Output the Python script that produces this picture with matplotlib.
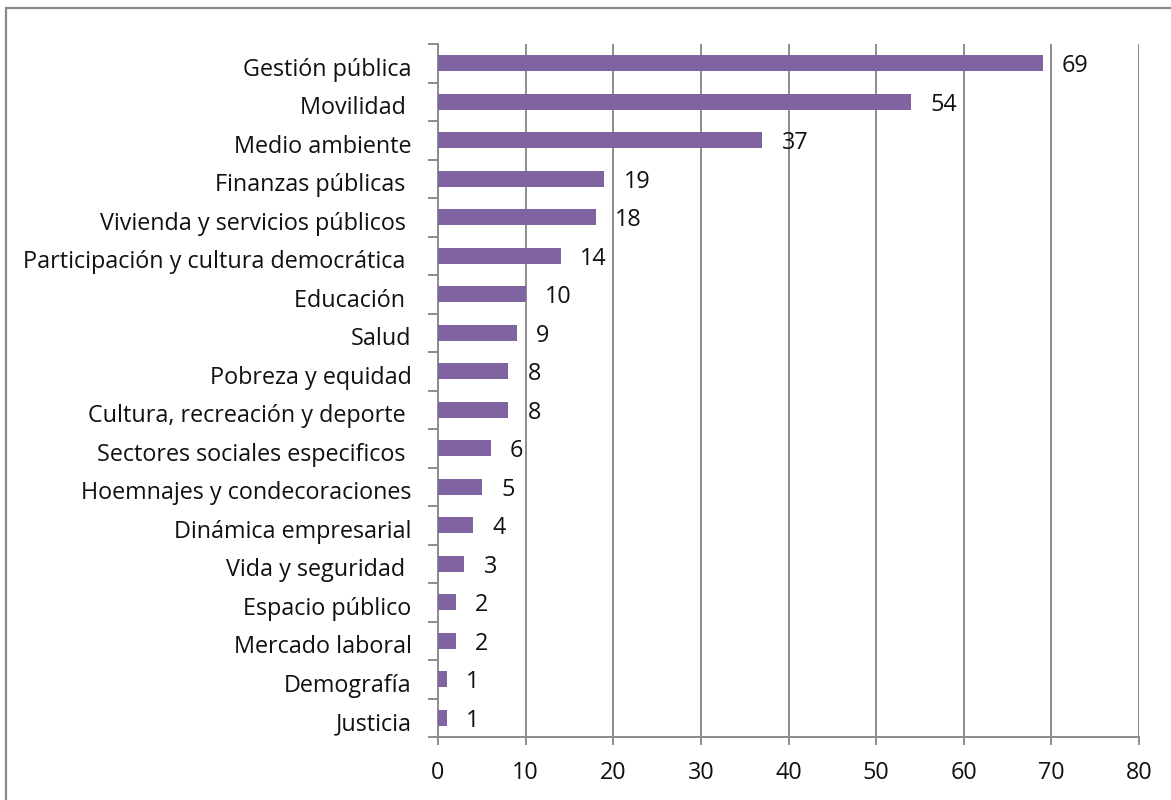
import matplotlib
matplotlib.use("Agg")
import matplotlib.pyplot as plt
import matplotlib.transforms as mtransforms
import numpy as np
from matplotlib.patches import Rectangle

categories = ["Gestión pública", "Movilidad ", "Medio ambiente", "Finanzas públicas ",
              "Vivienda y servicios públicos ", "Participación y cultura democrática ",
              "Educación ", "Salud", "Pobreza y equidad", "Cultura, recreación y deporte ",
              "Sectores sociales especificos ", "Hoemnajes y condecoraciones",
              "Dinámica empresarial", "Vida y seguridad ", "Espacio público",
              "Mercado laboral", "Demografía", "Justicia"]
values = [69, 54, 37, 19, 18, 14, 10, 9, 8, 8, 6, 5, 4, 3, 2, 2, 1, 1]
xticks = [0, 10, 20, 30, 40, 50, 60, 70, 80]

PURPLE = "#8064a2"
AXIS = "#8c8c8c"
INK = "#111111"
FS = 16.8

plt.rcParams.update({
    "font.family": ["Open Sans", "DejaVu Sans"],
    "font.size": FS,
    "text.color": INK,
})

fig = plt.figure(figsize=(11.71, 8.0), dpi=100)
ax = fig.add_axes([438 / 1171, 1 - 737 / 800, (1139 - 438) / 1171, (737 - 44) / 800])

n = len(categories)
y = np.arange(n)[::-1]
ax.barh(y, values, height=0.41, color=PURPLE, zorder=3)
for yi, v in zip(y, values):
    ax.annotate(f"{v}", (v, yi), xytext=(14, -2), textcoords="offset points",
                ha="left", va="center", fontsize=FS, color=INK, zorder=4)

ax.set_xlim(0, 80)
ax.set_ylim(-0.5, n - 0.5)
ax.set_xticks(xticks, [str(t) for t in xticks])
ax.set_yticks(y, categories)
ax.set_yticks(np.arange(-0.5, n), minor=True)
ax.tick_params(axis="y", which="major", length=0, pad=19, labelcolor=INK)
ax.tick_params(axis="y", which="minor", length=7, width=1.4, color=AXIS, direction="out")
ax.tick_params(axis="x", length=6, width=1.4, color=AXIS, pad=11, labelcolor=INK)
ax.xaxis.grid(True, color=AXIS, lw=1.4, zorder=0)
for s in ("top", "right"):
    ax.spines[s].set_visible(False)
for s in ("left", "bottom"):
    ax.spines[s].set_color(AXIS)
    ax.spines[s].set_linewidth(1.4)

# category labels sit a touch below the bar centre in the original
shift = mtransforms.ScaledTranslation(0, -2.5 / 72, fig.dpi_scale_trans)
for lab in ax.get_yticklabels():
    lab.set_transform(lab.get_transform() + shift)

# outer frame (cropped at right and bottom)
fig.patches.append(Rectangle((6 / 1171, -0.1), 1.2, 1 - 8 / 800 + 0.1,
                             transform=fig.transFigure, fill=False,
                             edgecolor="#8a8a8a", lw=1.6))

fig.savefig("out.png", dpi=100)
